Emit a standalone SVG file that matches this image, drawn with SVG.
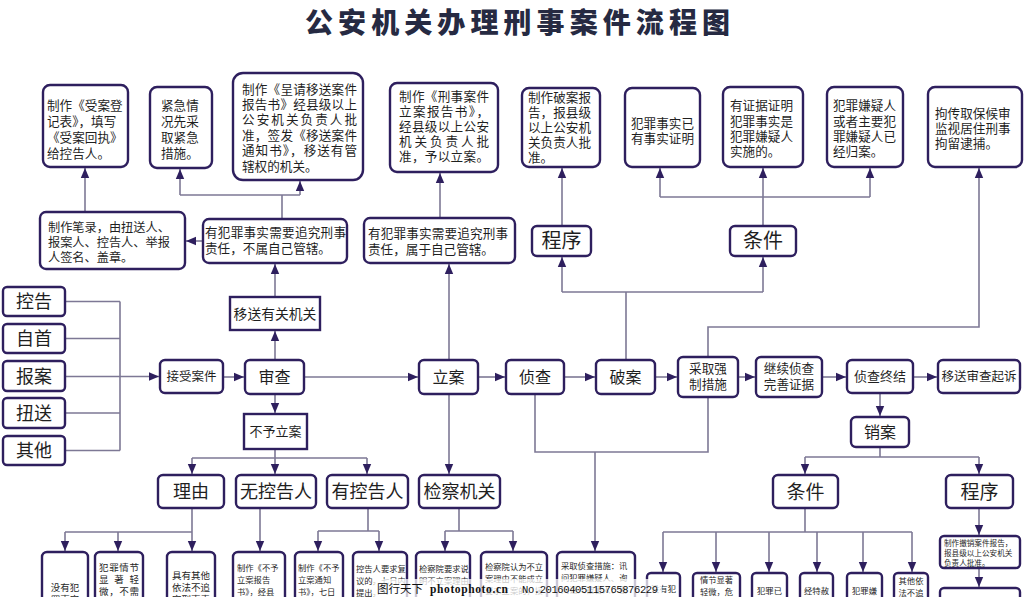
<svg xmlns="http://www.w3.org/2000/svg" width="1024" height="597" viewBox="0 0 1024 597">
<defs>
<marker id="a" viewBox="0 0 10 10" refX="10" refY="5" markerWidth="10" markerHeight="10" markerUnits="userSpaceOnUse" orient="auto"><path d="M0,0.8 L10,5 L0,9.2 z" fill="#2e1f5e"/></marker>
<style>
.b{fill:#fff;stroke:#2e1f5e;stroke-width:2.4}
.c{fill:none;stroke:#7d7895;stroke-width:1.6}
.ar{marker-end:url(#a)}
text{font-family:'Noto Sans CJK SC','Noto Sans',sans-serif;fill:#1f1f1f}
.m{text-anchor:middle}
.f13{font-size:12.6px}
.f12{font-size:12.2px}
.s9{font-size:9.5px}
.s8{font-size:8.3px}
.big{font-size:18px}
.mid{font-size:16px}
</style>
</defs>
<rect width="1024" height="597" fill="#fff"/>
<text x="305" y="33" textLength="425" lengthAdjust="spacing" style="font-size:28px;font-weight:900;fill:#262a42">公安机关办理刑事案件流程图</text>

<g id="connectors">
<path class="c ar" d="M85,212 V168"/>
<path class="c" d="M282,219 V195 M180,195 H300"/>
<path class="c ar" d="M180,195 V169"/>
<path class="c ar" d="M300,195 V181"/>
<path class="c ar" d="M203,241 H186"/>
<path class="c ar" d="M275,297 V264"/>
<path class="c ar" d="M275,360 V331"/>
<path class="c ar" d="M440,218 V173"/>
<path class="c ar" d="M449,360 V264"/>
<path class="c ar" d="M562,226 V168"/>
<path class="c" d="M626,360 V292 H562 M626,292 H763"/>
<path class="c ar" d="M562,292 V257"/>
<path class="c ar" d="M763,292 V257"/>
<path class="c" d="M763,226 V197 M660,197 H870"/>
<path class="c ar" d="M660,197 V168"/>
<path class="c ar" d="M763,197 V168"/>
<path class="c ar" d="M870,197 V168"/>
<path class="c ar" d="M708,357 V327 H979 V168"/>
<path class="c" d="M65,301.5 H120 M65,338.5 H120 M65,413 H120 M65,450.5 H120 M120,301.5 V450.5"/>
<path class="c ar" d="M65,376.5 H159"/>
<path class="c ar" d="M223,377 H244"/>
<path class="c ar" d="M304,377 H418"/>
<path class="c ar" d="M478,377 H505"/>
<path class="c ar" d="M564,377 H595"/>
<path class="c ar" d="M655,377 H677"/>
<path class="c ar" d="M738,377 H755"/>
<path class="c ar" d="M822,377 H846"/>
<path class="c ar" d="M913,377 H937"/>
<path class="c ar" d="M880,393 V416"/>
<path class="c ar" d="M275,394 V413"/>
<path class="c" d="M275,449 V458 M192,458 H367"/>
<path class="c ar" d="M192,458 V474"/>
<path class="c ar" d="M275,458 V474"/>
<path class="c ar" d="M367,458 V474"/>
<path class="c ar" d="M449,394 V474"/>
<path class="c" d="M535,394 V452 H708 V397"/>
<path class="c ar" d="M595,452 V551"/>
<path class="c" d="M880,447 V457 M805,457 H979"/>
<path class="c ar" d="M805,457 V474"/>
<path class="c ar" d="M979,457 V474"/>
<path class="c" d="M192,508 V532 M65,532 H192"/>
<path class="c ar" d="M65,532 V551"/>
<path class="c ar" d="M118,532 V551"/>
<path class="c ar" d="M192,532 V551"/>
<path class="c ar" d="M260,508 V551"/>
<path class="c" d="M368,508 V531 M318,531 H379"/>
<path class="c ar" d="M318,531 V551"/>
<path class="c ar" d="M379,531 V551"/>
<path class="c" d="M459,508 V531 M445,531 H513"/>
<path class="c ar" d="M445,531 V551"/>
<path class="c ar" d="M513,531 V551"/>
<path class="c" d="M805,508 V532 M663,532 H912"/>
<path class="c ar" d="M663,532 V572"/>
<path class="c ar" d="M716,532 V572"/>
<path class="c ar" d="M769,532 V572"/>
<path class="c ar" d="M817,532 V572"/>
<path class="c ar" d="M863,532 V572"/>
<path class="c ar" d="M912,532 V572"/>
<path class="c ar" d="M979,508 V535"/>
<path class="c ar" d="M979,568 V587"/>
</g>

<g id="n-b1"><rect class="b" x="43" y="85" width="85" height="82" rx="7"/>
<text class="f13" x="47" y="110">制作《受案登</text><text class="f13" x="47" y="126">记表》，填写</text><text class="f13" x="47" y="142">《受案回执》</text><text class="f13" x="47" y="158">给控告人。</text></g>
<g id="n-b2"><rect class="b" x="150" y="87" width="62" height="81" rx="7"/>
<text class="f13" x="161" y="110">紧急情</text><text class="f13" x="161" y="126">况先采</text><text class="f13" x="161" y="142">取紧急</text><text class="f13" x="161" y="158">措施。</text></g>
<g id="n-b3"><rect class="b" x="233" y="73" width="130" height="107" rx="10"/>
<text class="f13" x="242" y="94" textLength="115">制作《呈请移送案件</text><text class="f13" x="242" y="109" textLength="115">报告书》经县级以上</text><text class="f13" x="242" y="124" textLength="115">公安机关负责人批</text><text class="f13" x="242" y="140" textLength="115">准，签发《移送案件</text><text class="f13" x="242" y="155" textLength="115">通知书》，移送有管</text><text class="f13" x="242" y="171">辖权的机关。</text></g>
<g id="n-b4"><rect class="b" x="390" y="83" width="108" height="89" rx="7"/>
<text class="f13" x="399" y="101" textLength="90">制作《刑事案件</text><text class="f13" x="399" y="116" textLength="90">立案报告书》，</text><text class="f13" x="399" y="131" textLength="90">经县级以上公安</text><text class="f13" x="399" y="146" textLength="90">机关负责人批</text><text class="f13" x="399" y="161" textLength="90">准，予以立案。</text></g>
<g id="n-b5"><rect class="b" x="522" y="88" width="78" height="79" rx="7"/>
<text class="f13" x="528" y="102">制作破案报</text><text class="f13" x="528" y="117">告，报县级</text><text class="f13" x="528" y="132">以上公安机</text><text class="f13" x="528" y="147">关负责人批</text><text class="f13" x="528" y="162">准。</text></g>
<g id="n-b6"><rect class="b" x="625" y="88" width="75" height="79" rx="7"/>
<text class="f13 m" x="662.5" y="128">犯罪事实已</text><text class="f13 m" x="662.5" y="143">有事实证明</text></g>
<g id="n-b7"><rect class="b" x="723" y="87" width="80" height="80" rx="7"/>
<text class="f13" x="730" y="110">有证据证明</text><text class="f13" x="730" y="126">犯罪事实是</text><text class="f13" x="730" y="141">犯罪嫌疑人</text><text class="f13" x="730" y="156">实施的。</text></g>
<g id="n-b8"><rect class="b" x="827" y="87" width="76" height="80" rx="7"/>
<text class="f13" x="833" y="110">犯罪嫌疑人</text><text class="f13" x="833" y="126">或者主要犯</text><text class="f13" x="833" y="141">罪嫌疑人已</text><text class="f13" x="833" y="156">经归案。</text></g>
<g id="n-b9"><rect class="b" x="928" y="87" width="94" height="80" rx="7"/>
<text class="f13" x="935" y="118">拘传取保候审</text><text class="f13" x="935" y="133">监视居住刑事</text><text class="f13" x="935" y="148">拘留逮捕。</text></g>

<g id="n-bilu"><rect class="b" x="40" y="212" width="145" height="57" rx="6"/>
<text class="f12" x="48" y="231.5">制作笔录，由扭送人、</text><text class="f12" x="48" y="246.5">报案人、控告人、举报</text><text class="f12" x="48" y="261.5">人签名、盖章。</text></g>
<g id="n-bushu"><rect class="b" x="203" y="219" width="144" height="44" rx="6"/>
<text class="f13" x="205" y="236.5" textLength="141">有犯罪事实需要追究刑事</text><text class="f13" x="205" y="252.5">责任，不属自己管辖。</text></g>
<g id="n-shuyu"><rect class="b" x="364" y="218" width="151" height="45" rx="6"/>
<text class="f13" x="368" y="237.5" textLength="140">有犯罪事实需要追究刑事</text><text class="f13" x="368" y="253.5">责任，属于自己管辖。</text></g>
<g id="n-chengxu1"><rect class="b" x="532" y="226" width="59" height="30" rx="5"/><text class="m" x="561.5" y="248" style="font-size:20px">程序</text></g>
<g id="n-tiaojian1"><rect class="b" x="730" y="226" width="66" height="30" rx="5"/><text class="m" x="763" y="248" style="font-size:20px">条件</text></g>
<g id="n-yisong"><rect class="b" x="230" y="297" width="90" height="33"/><text class="m" x="275" y="318.5" style="font-size:13.8px">移送有关机关</text></g>

<g id="n-konggao"><rect class="b" x="3" y="287" width="62" height="29" rx="4"/><text class="m big" x="34" y="308">控告</text></g>
<g id="n-zishou"><rect class="b" x="3" y="324" width="62" height="29" rx="4"/><text class="m big" x="34" y="345">自首</text></g>
<g id="n-baoan"><rect class="b" x="3" y="361" width="62" height="30" rx="4"/><text class="m big" x="34" y="383">报案</text></g>
<g id="n-niusong"><rect class="b" x="3" y="398" width="62" height="30" rx="4"/><text class="m big" x="34" y="420">扭送</text></g>
<g id="n-qita"><rect class="b" x="3" y="436" width="62" height="29" rx="4"/><text class="m big" x="34" y="457">其他</text></g>

<g id="n-jieshou"><rect class="b" x="160" y="360" width="63" height="33" rx="5"/><text class="m" x="191.5" y="381" style="font-size:12.5px">接受案件</text></g>
<g id="n-shencha"><rect class="b" x="245" y="360" width="59" height="34" rx="5"/><text class="m mid" x="274.5" y="383">审查</text></g>
<g id="n-lian"><rect class="b" x="419" y="360" width="59" height="34" rx="5"/><text class="m mid" x="448.5" y="383">立案</text></g>
<g id="n-zhencha"><rect class="b" x="506" y="360" width="58" height="34" rx="5"/><text class="m mid" x="535" y="383">侦查</text></g>
<g id="n-poan"><rect class="b" x="596" y="360" width="59" height="34" rx="5"/><text class="m mid" x="625.5" y="383">破案</text></g>
<g id="n-qiangzhi"><rect class="b" x="678" y="357" width="60" height="40" rx="5"/><text class="m f13" x="708" y="373">采取强</text><text class="m f13" x="708" y="389">制措施</text></g>
<g id="n-jixu"><rect class="b" x="756" y="357" width="66" height="40" rx="5"/><text class="m f13" x="789" y="373">继续侦查</text><text class="m f13" x="789" y="389">完善证据</text></g>
<g id="n-zhongjie"><rect class="b" x="847" y="360" width="66" height="33" rx="5"/><text class="m" x="880" y="381" style="font-size:13px">侦查终结</text></g>
<g id="n-qisu"><rect class="b" x="938" y="360" width="82" height="33" rx="5"/><text class="m" x="979" y="381" style="font-size:12.5px">移送审查起诉</text></g>
<g id="n-xiaoan"><rect class="b" x="851" y="417" width="58" height="30" rx="5"/><text class="m mid" x="880" y="438">销案</text></g>

<g id="n-buyu"><rect class="b" x="244" y="414" width="63" height="35"/><text class="m" x="275.5" y="436" style="font-size:13px">不予立案</text></g>
<g id="n-liyou"><rect class="b" x="158" y="475" width="66" height="33" rx="5"/><text class="m big" x="191" y="498">理由</text></g>
<g id="n-wu"><rect class="b" x="236" y="475" width="80" height="33" rx="5"/><text class="m big" x="276" y="498">无控告人</text></g>
<g id="n-you"><rect class="b" x="327" y="475" width="81" height="33" rx="5"/><text class="m big" x="367.5" y="498">有控告人</text></g>
<g id="n-jiancha"><rect class="b" x="419" y="475" width="81" height="33" rx="5"/><text class="m big" x="459.5" y="498">检察机关</text></g>
<g id="n-tiaojian2"><rect class="b" x="773" y="475" width="65" height="33" rx="5"/><text class="m" x="805.5" y="499" style="font-size:19px">条件</text></g>
<g id="n-chengxu2"><rect class="b" x="946" y="475" width="67" height="33" rx="5"/><text class="m" x="979.5" y="499" style="font-size:19px">程序</text></g>

<g id="n-a"><rect class="b" x="42" y="552" width="46" height="80" rx="5"/><text class="m s9" x="65" y="591">没有犯</text><text class="m s9" x="65" y="603">罪事实</text></g>
<g id="n-b"><rect class="b" x="95" y="552" width="48" height="80" rx="5"/><text class="s9" x="99" y="571" textLength="40">犯罪情节</text><text class="s9" x="99" y="583" textLength="40">显著轻</text><text class="s9" x="99" y="595" textLength="40">微，不需</text><text class="s9" x="99" y="607" textLength="40">要追究刑</text></g>
<g id="n-c"><rect class="b" x="167" y="552" width="48" height="80" rx="5"/><text class="m s9" x="191" y="579">具有其他</text><text class="m s9" x="191" y="591">依法不追</text><text class="m s9" x="191" y="603">究刑事责</text></g>
<g id="n-d"><rect class="b" x="233" y="552" width="52" height="80" rx="5"/><text class="s8" x="237" y="571">制作《不予</text><text class="s8" x="237" y="583">立案报告</text><text class="s8" x="237" y="595">书》，经县</text><text class="s8" x="237" y="607">级以上公安</text></g>
<g id="n-e"><rect class="b" x="295" y="552" width="48" height="80" rx="5"/><text class="s8" x="298" y="571">制作《不予</text><text class="s8" x="298" y="583">立案通知</text><text class="s8" x="298" y="595">书》，七日</text></g>
<g id="n-f"><rect class="b" x="353" y="552" width="54" height="80" rx="5"/><text class="s8" x="356" y="572">控告人要求复</text><text class="s8" x="356" y="584">议的，七日内</text><text class="s8" x="356" y="596">提出，</text></g>
<g id="n-g"><rect class="b" x="416" y="552" width="54" height="80" rx="5"/><text class="s8" x="419" y="572">检察院要求说</text><text class="s8" x="419" y="584">明不立案理由</text></g>
<g id="n-h"><rect class="b" x="481" y="552" width="66" height="80" rx="5"/><text class="s8" x="485" y="570">检察院认为不立</text><text class="s8" x="485" y="582">案理由不能成立</text><text class="s8" x="485" y="594">要求立案的，接</text></g>
<g id="n-i"><rect class="b" x="557" y="552" width="78" height="80" rx="5"/><text class="s8" x="561" y="569">采取侦查措施：讯</text><text class="s8" x="561" y="581">问犯罪嫌疑人、询</text><text class="s8" x="561" y="593">问证人被害人、勘</text></g>
<g id="n-j"><rect class="b" x="647" y="573" width="33" height="60" rx="4"/><text class="m s8" x="663.5" y="592">没有犯</text></g>
<g id="n-k"><rect class="b" x="693" y="573" width="47" height="60" rx="4"/><text class="m s8" x="716.5" y="583">情节显著</text><text class="m s8" x="716.5" y="595">轻微，危</text></g>
<g id="n-l"><rect class="b" x="752" y="573" width="35" height="60" rx="4"/><text class="m s8" x="769.5" y="594">犯罪已</text></g>
<g id="n-mm"><rect class="b" x="800" y="573" width="33" height="60" rx="4"/><text class="m s8" x="816.5" y="594">经特赦</text></g>
<g id="n-n"><rect class="b" x="847" y="573" width="35" height="60" rx="4"/><text class="m s8" x="864.5" y="594">犯罪嫌</text></g>
<g id="n-o"><rect class="b" x="894" y="573" width="34" height="60" rx="4"/><text class="m s8" x="911" y="584">其他依</text><text class="m s8" x="911" y="596">法不追</text></g>
<g id="n-p"><rect class="b" x="940" y="536" width="80" height="32" rx="4"/><text class="s8" x="944" y="546" style="font-size:7.6px">制作撤销案件报告，</text><text class="s8" x="944" y="556" style="font-size:7.6px">报县级以上公安机关</text><text class="s8" x="944" y="566" style="font-size:7.6px">负责人批准。</text></g>
<g id="n-q"><rect class="b" x="940" y="588" width="80" height="30" rx="4"/></g>

<g id="watermark">
<rect x="374" y="579" width="288" height="18" fill="#fff" opacity="0.75"/>
<text x="377" y="593" style="font-size:11.5px;fill:#111">图行天下</text>
<text x="430" y="593" textLength="78" style="font-family:'Liberation Serif',serif;font-size:11.5px;font-weight:bold;fill:#111">photophoto.cn</text>
<text x="522" y="593" textLength="136" style="font-family:'Liberation Mono',monospace;font-size:10.5px;fill:#111">No.20160405115765876229</text>
</g>
</svg>
